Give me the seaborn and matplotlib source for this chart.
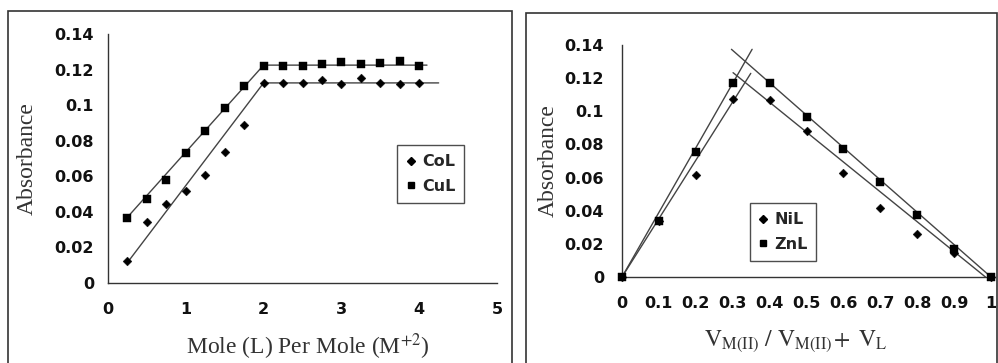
import numpy as np
import pandas as pd
import matplotlib
matplotlib.use("Agg")
import matplotlib.pyplot as plt
from matplotlib.patches import Rectangle
from matplotlib.lines import Line2D
import seaborn as sns

# ---------------- data (left panel: mole ratio) ----------------
mole_x = [0.25, 0.5, 0.75, 1.0, 1.25, 1.5, 1.75, 2.0, 2.25, 2.5, 2.75, 3.0, 3.25, 3.5, 3.75, 4.0]
col_y = [0.0124, 0.0344, 0.0442, 0.0519, 0.0610, 0.0739, 0.0887, 0.1124,
         0.1122, 0.1122, 0.1140, 0.1118, 0.1150, 0.1122, 0.1120, 0.1126]
cul_y = [0.0366, 0.0474, 0.0577, 0.0733, 0.0857, 0.0983, 0.1105, 0.1220,
         0.1220, 0.1220, 0.1233, 0.1244, 0.1230, 0.1235, 0.1248, 0.1220]
col_fit_x = [0.25, 2.0, 4.25]
col_fit_y = [0.0115, 0.1125, 0.1125]
cul_fit_x = [0.25, 2.0, 4.1]
cul_fit_y = [0.0370, 0.1225, 0.1225]

# ---------------- data (right panel: Job's method) ----------------
job_x = [0.0, 0.1, 0.2, 0.3, 0.4, 0.5, 0.6, 0.7, 0.8, 0.9, 1.0]
nil_y = [0.0, 0.034, 0.0618, 0.1076, 0.1066, 0.088, 0.0627, 0.0418, 0.0259, 0.0145, 0.0]
znl_y = [0.0, 0.034, 0.0755, 0.1173, 0.1173, 0.0964, 0.0773, 0.0576, 0.0376, 0.0169, 0.0]
znl_up_x, znl_up_y = [0.0, 0.3526], [0.0, 0.1374]
znl_dn_x, znl_dn_y = [0.2966, 1.0], [0.1374, 0.0]
nil_up_x, nil_up_y = [0.0, 0.349], [0.0, 0.1229]
nil_dn_x, nil_dn_y = [0.301, 0.985], [0.1233, 0.0]

left_xticks = [0, 1, 2, 3, 4, 5]
left_yticks = [0, 0.02, 0.04, 0.06, 0.08, 0.1, 0.12, 0.14]
left_yticklabels = ["0", "0.02", "0.04", "0.06", "0.08", "0.1", "0.12", "0.14"]
right_xticks = [0, 0.1, 0.2, 0.3, 0.4, 0.5, 0.6, 0.7, 0.8, 0.9, 1.0]
right_xticklabels = ["0", "0.1", "0.2", "0.3", "0.4", "0.5", "0.6", "0.7", "0.8", "0.9", "1"]

sns.set_style("white")
plt.rcParams["font.family"] = ["DejaVu Sans"]
plt.rcParams["mathtext.fontset"] = "stix"

fig = plt.figure(figsize=(9.98, 3.63), dpi=100)
W, H = 998, 363

def fig_rect(x0, y0, x1, y1):
    return [x0 / W, 1 - y1 / H, (x1 - x0) / W, (y1 - y0) / H]

ax1 = fig.add_axes(fig_rect(108, 34, 497, 283))
ax2 = fig.add_axes(fig_rect(622, 45, 991, 277))

# panel frames
fig.patches.append(Rectangle((8 / W, -0.05), (512 - 8) / W, 1 - 11 / H + 0.05,
                             transform=fig.transFigure, fill=False, ec="#333333", lw=1.2))
fig.patches.append(Rectangle((526 / W, -0.05), (997 - 526) / W, 1 - 13 / H + 0.05,
                             transform=fig.transFigure, fill=False, ec="#333333", lw=1.2))

line_kw = dict(color="#444444", linewidth=1.0, estimator=None, sort=False)
dia_kw = dict(marker="D", s=20, color="black", edgecolor="black", linewidth=0.3, zorder=3)
sq_kw = dict(marker="s", s=30, color="black", edgecolor="black", linewidth=0.3, zorder=3)

# ---- left panel
sns.lineplot(x=col_fit_x, y=col_fit_y, ax=ax1, **line_kw)
sns.lineplot(x=cul_fit_x, y=cul_fit_y, ax=ax1, **line_kw)
sns.scatterplot(x=mole_x, y=col_y, ax=ax1, **dia_kw)
sns.scatterplot(x=mole_x, y=cul_y, ax=ax1, **sq_kw)

# ---- right panel
for xs, ys in [(znl_up_x, znl_up_y), (znl_dn_x, znl_dn_y),
               (nil_up_x, nil_up_y), (nil_dn_x, nil_dn_y)]:
    sns.lineplot(x=xs, y=ys, ax=ax2, **line_kw)
sns.scatterplot(x=job_x, y=nil_y, ax=ax2, **dia_kw)
sns.scatterplot(x=job_x, y=znl_y, ax=ax2, **sq_kw)

tick_font = dict(fontsize=11.5, fontweight="bold", family="DejaVu Sans")
label_font = dict(fontsize=17, family="Liberation Serif", color="#333333")

for ax in (ax1, ax2):
    for s in ("top", "right"):
        ax.spines[s].set_visible(False)
    for s in ("left", "bottom"):
        ax.spines[s].set_color("#333333")
        ax.spines[s].set_linewidth(1.0)
    ax.tick_params(axis="both", direction="out", length=4, width=1, color="#333333")
    ax.set_facecolor("white")
    ax.grid(False)

ax1.set_xlim(0, 5)
ax1.set_ylim(0, 0.14)
ax1.set_xticks(left_xticks)
ax1.set_xticklabels([str(t) for t in left_xticks], **tick_font)
ax1.set_yticks(left_yticks)
ax1.set_yticklabels(left_yticklabels, **tick_font)
ax1.tick_params(axis="x", pad=10)
ax1.tick_params(axis="y", pad=6)
ax1.set_ylabel("Absorbance", labelpad=12, **label_font)
ax1.set_xlabel(r"Mole (L) Per Mole (M$^{+2}$)", labelpad=10, **label_font)
ax1.xaxis.label.set_x(0.515)

ax2.set_xlim(0, 1)
ax2.set_ylim(0, 0.14)
ax2.set_xticks(right_xticks)
ax2.set_xticklabels(right_xticklabels, **tick_font)
ax2.set_yticks(left_yticks)
ax2.set_yticklabels(left_yticklabels, **tick_font)
ax2.tick_params(axis="x", pad=10)
ax2.tick_params(axis="y", pad=9)
ax2.set_ylabel("Absorbance", labelpad=4, **label_font)
ax2.set_xlabel(r"$\mathrm{V_{M(II)}\ /\ V_{M(II)}\!+\ V_L}$", labelpad=12, fontsize=17, color="#333333")
ax2.xaxis.label.set_x(0.47)

for ax in (ax1, ax2):
    for lbl in ax.get_xticklabels() + ax.get_yticklabels():
        lbl.set_color("#111111")
for c in (ax1.collections + ax2.collections):
    c.set_clip_on(False)

def add_legend(ax, labels, bbox):
    handles = [Line2D([], [], marker="D", color="black", linestyle="none", markersize=4.0),
               Line2D([], [], marker="s", color="black", linestyle="none", markersize=5.0)]
    leg = ax.legend(handles, labels, loc="center", bbox_to_anchor=bbox,
                    bbox_transform=fig.transFigure, frameon=True, fancybox=False,
                    edgecolor="#222222", handlelength=0.6, handletextpad=0.4,
                    borderpad=0.55, labelspacing=0.6, borderaxespad=0,
                    prop=dict(size=11.5, weight="bold", family="DejaVu Sans"))
    leg.get_frame().set_linewidth(1.0)
    return leg

add_legend(ax1, ["CoL", "CuL"], (430.5 / W, 1 - 174 / H))
add_legend(ax2, ["NiL", "ZnL"], (783 / W, 1 - 232 / H))

fig.savefig("out.png", dpi=100, facecolor="white")
